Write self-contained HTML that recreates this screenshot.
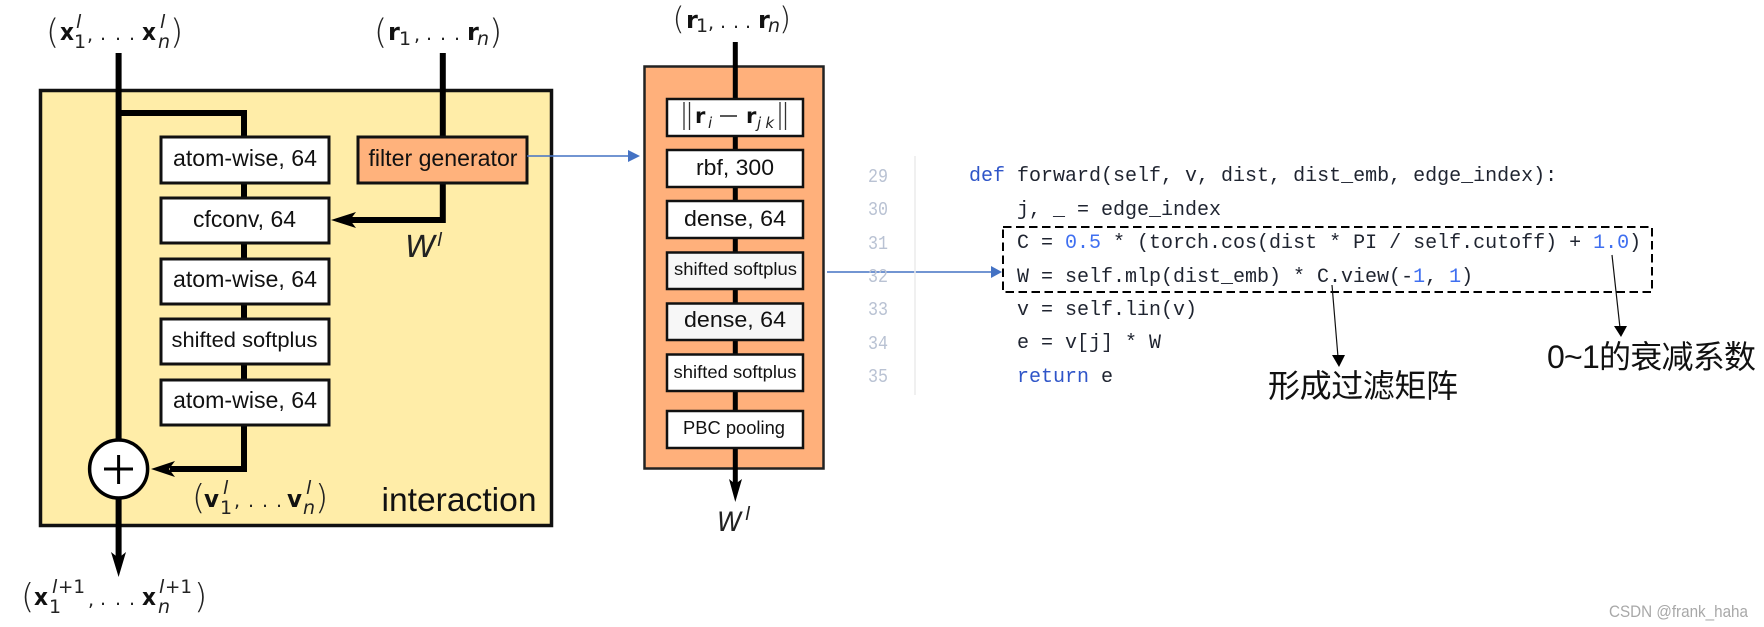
<!DOCTYPE html>
<html><head><meta charset="utf-8">
<style>
html,body{margin:0;padding:0;background:#fff;width:1764px;height:627px;overflow:hidden}
svg{display:block;filter:blur(0.35px)}
.l{font-family:"Liberation Sans",sans-serif;fill:#111}
.b{font-family:"DejaVu Sans",sans-serif;font-weight:bold;font-size:24px;fill:#111}
.r{font-family:"DejaVu Sans",sans-serif;font-size:19px;fill:#222}
.p{font-family:"DejaVu Sans",sans-serif;font-size:34px;font-weight:200;fill:#222}
.i{font-family:"DejaVu Sans",sans-serif;font-style:italic;font-size:19px;fill:#222}
.w{font-family:"DejaVu Sans",sans-serif;font-style:italic;font-size:30px;font-weight:200;fill:#222}
.c{font-family:"Liberation Mono",monospace;font-size:20px;fill:#1f2430;white-space:pre}
.k{fill:#2f55c8}.n{fill:#3f6ff0}
.g{font-family:"Liberation Mono",monospace;font-size:19px;fill:#b9c2d3}
.z{font-family:"Liberation Sans","Noto Sans CJK SC",sans-serif;font-size:32px;fill:#111}
</style></head><body>
<svg width="1764" height="627" viewBox="0 0 1764 627" xmlns="http://www.w3.org/2000/svg">
<rect width="1764" height="627" fill="#fff"/>

<!-- left main box -->
<rect x="40.5" y="90.5" width="511" height="435" fill="#FFEDA8" stroke="#111" stroke-width="3.5"/>
<g stroke="#000" fill="none" stroke-width="6">
<path d="M118.6 53V440"/>
<path d="M118.6 113H244V136"/>
<path d="M442.8 53V136"/>
<path d="M244 183V197M244 243V258M244 304V318M244 364V379"/>
<path d="M442.8 183V220H350"/>
<path d="M244 425V469H170"/>
<path d="M118.6 498V558"/>
</g>
<g fill="#000">
<path d="M331 220L356 212L350 220L356 228Z"/>
<path d="M151 469L175 461L169 469L175 477Z"/>
<path d="M118.6 577L111 552L118.6 558L126 552Z"/>
</g>
<g fill="#fff" stroke="#111" stroke-width="3">
<rect x="161" y="137" width="168" height="46"/>
<rect x="161" y="198" width="168" height="45"/>
<rect x="161" y="259" width="168" height="45"/>
<rect x="161" y="319" width="168" height="45"/>
<rect x="161" y="380" width="168" height="45"/>
<rect x="358" y="137" width="169" height="46" fill="#FFB27C"/>
</g>
<circle cx="118.6" cy="469" r="29" fill="#fff" stroke="#000" stroke-width="3.5"/>
<path d="M104 469H133M118.6 455V484" stroke="#000" stroke-width="3" fill="none"/>
<g font-size="23">
<text class="l" x="173" y="166" textLength="144" lengthAdjust="spacingAndGlyphs">atom-wise, 64</text>
<text class="l" x="193" y="227" textLength="103" lengthAdjust="spacingAndGlyphs">cfconv, 64</text>
<text class="l" x="173" y="287" textLength="144" lengthAdjust="spacingAndGlyphs">atom-wise, 64</text>
<text class="l" x="171.5" y="347" font-size="21.5" textLength="146" lengthAdjust="spacingAndGlyphs">shifted softplus</text>
<text class="l" x="173" y="408" textLength="144" lengthAdjust="spacingAndGlyphs">atom-wise, 64</text>
<text class="l" x="368.5" y="166" textLength="149" lengthAdjust="spacingAndGlyphs">filter generator</text>
</g>
<text class="l" x="381.5" y="511" font-size="33.6" textLength="155" lengthAdjust="spacingAndGlyphs">interaction</text>

<!-- W^l left -->
<text class="w" x="405" y="257" textLength="31" lengthAdjust="spacingAndGlyphs">W</text>
<text class="i" x="437" y="246">l</text>

<!-- top-left label -->
<text class="p" x="46" y="43.5">(</text>
<text class="b" x="60" y="40" textLength="14" lengthAdjust="spacingAndGlyphs">x</text>
<text class="r" x="74" y="48">1</text>
<text class="i" x="76" y="28">l</text>
<text class="r" x="87" y="41">,</text>
<text class="r" x="100 115 129" y="40">...</text>
<text class="b" x="142" y="40" textLength="14" lengthAdjust="spacingAndGlyphs">x</text>
<text class="i" x="158" y="48">n</text>
<text class="i" x="160" y="28">l</text>
<text class="p" x="170" y="43.5">)</text>

<!-- top r label -->
<text class="p" x="374" y="43.5">(</text>
<text class="b" x="388" y="40">r</text>
<text class="r" x="399" y="45">1</text>
<text class="r" x="414" y="41">,</text>
<text class="r" x="426 440 454" y="40">...</text>
<text class="b" x="467" y="40">r</text>
<text class="i" x="477" y="45">n</text>
<text class="p" x="489" y="43.5">)</text>

<!-- v label -->
<text class="p" x="192" y="509">(</text>
<text class="b" x="204" y="507" textLength="15" lengthAdjust="spacingAndGlyphs">v</text>
<text class="r" x="220" y="514">1</text>
<text class="i" x="223" y="494">l</text>
<text class="r" x="234" y="507">,</text>
<text class="r" x="248 262 276" y="507">...</text>
<text class="b" x="287" y="507" textLength="15" lengthAdjust="spacingAndGlyphs">v</text>
<text class="i" x="303" y="514">n</text>
<text class="i" x="306" y="494">l</text>
<text class="p" x="315" y="509">)</text>

<!-- bottom label -->
<text class="p" x="21" y="608">(</text>
<text class="b" x="34" y="605" textLength="14" lengthAdjust="spacingAndGlyphs">x</text>
<text class="r" x="49" y="613">1</text>
<text class="i" x="52" y="593">l</text>
<text class="r" x="58" y="593" textLength="27" lengthAdjust="spacingAndGlyphs">+1</text>
<text class="r" x="88" y="606">,</text>
<text class="r" x="100 115 129" y="605">...</text>
<text class="b" x="142" y="605" textLength="14" lengthAdjust="spacingAndGlyphs">x</text>
<text class="i" x="158" y="613">n</text>
<text class="i" x="159" y="593">l</text>
<text class="r" x="165" y="593" textLength="27" lengthAdjust="spacingAndGlyphs">+1</text>
<text class="p" x="194" y="608">)</text>

<!-- middle box -->
<rect x="644.5" y="66.5" width="179" height="402" fill="#FFB07B" stroke="#222" stroke-width="2.5"/>
<path d="M735.3 42V98M735.3 136V150M735.3 187V201M735.3 238V252M735.3 289V303M735.3 340V354M735.3 391V410M735.3 448V486" stroke="#000" stroke-width="5" fill="none"/>
<path d="M735.3 502L729 479L735.3 484L742 479Z" fill="#000"/>
<g stroke="#111" stroke-width="2.5" fill="#fff">
<rect x="667" y="99" width="136" height="37"/>
<rect x="667" y="150" width="136" height="37"/>
<rect x="667" y="201" width="136" height="37"/>
<rect x="667" y="252.5" width="136" height="36.5" fill="#f7f7f7"/>
<rect x="667" y="303.5" width="136" height="36.5" fill="#f7f7f7"/>
<rect x="667" y="354.5" width="136" height="36.5"/>
<rect x="667" y="411" width="136" height="37"/>
</g>
<text class="l" x="696" y="175" font-size="22" textLength="78" lengthAdjust="spacingAndGlyphs">rbf, 300</text>
<text class="l" x="684" y="226" font-size="22" textLength="102" lengthAdjust="spacingAndGlyphs">dense, 64</text>
<text class="l" x="674" y="275" font-size="17.5" textLength="123" lengthAdjust="spacingAndGlyphs">shifted softplus</text>
<text class="l" x="684" y="327" font-size="22" textLength="102" lengthAdjust="spacingAndGlyphs">dense, 64</text>
<text class="l" x="673.5" y="378" font-size="17.5" textLength="123" lengthAdjust="spacingAndGlyphs">shifted softplus</text>
<text class="l" x="683" y="434" font-size="18" textLength="102" lengthAdjust="spacingAndGlyphs">PBC pooling</text>
<path d="M684 102V130M689.5 102V130M780 102V130M785.5 102V130" stroke="#333" stroke-width="1.3" fill="none"/>
<text class="b" x="695" y="123" style="font-size:21px">r</text>
<text class="i" x="708" y="128" style="font-size:15px">i</text>
<path d="M720 116H737" stroke="#222" stroke-width="1.5"/>
<text class="b" x="746" y="123" style="font-size:21px">r</text>
<text class="i" x="757" y="128" style="font-size:15px" textLength="17">jk</text>

<!-- middle r label -->
<text class="p" x="672.5" y="29" style="font-size:31px">(</text>
<text class="b" x="686" y="28">r</text>
<text class="r" x="696" y="32">1</text>
<text class="r" x="708" y="29">,</text>
<text class="r" x="720 733 745" y="28">...</text>
<text class="b" x="758" y="28">r</text>
<text class="i" x="768" y="32">n</text>
<text class="p" x="779" y="29" style="font-size:31px">)</text>
<!-- W^l middle -->
<text class="w" x="717" y="531" style="font-size:27px" textLength="25" lengthAdjust="spacingAndGlyphs">W</text>
<text class="i" x="745" y="520">l</text>

<!-- blue connectors -->
<path d="M527 156H630M827 272H993" stroke="#4472C4" stroke-width="1.4" fill="none"/>
<path d="M640 156L628 150V162Z M1002 272L991 266V278Z" fill="#4472C4"/>

<!-- code -->
<path d="M915 156V395" stroke="#ececec" stroke-width="1.5"/>
<text class="g" x="868" y="182" textLength="20" lengthAdjust="spacingAndGlyphs">29</text>
<text class="g" x="868" y="215" textLength="20" lengthAdjust="spacingAndGlyphs">30</text>
<text class="g" x="868" y="249" textLength="20" lengthAdjust="spacingAndGlyphs">31</text>
<text class="g" x="868" y="282" textLength="20" lengthAdjust="spacingAndGlyphs">32</text>
<text class="g" x="868" y="315" textLength="20" lengthAdjust="spacingAndGlyphs">33</text>
<text class="g" x="868" y="349" textLength="20" lengthAdjust="spacingAndGlyphs">34</text>
<text class="g" x="868" y="382" textLength="20" lengthAdjust="spacingAndGlyphs">35</text>
<text class="c" x="969" y="181"><tspan class="k">def</tspan> forward(self, v, dist, dist_emb, edge_index):</text>
<text class="c" x="1017" y="215">j, _ = edge_index</text>
<text class="c" x="1017" y="248">C = <tspan class="n">0.5</tspan> * (torch.cos(dist * PI / self.cutoff) + <tspan class="n">1.0</tspan>)</text>
<text class="c" x="1017" y="282">W = self.mlp(dist_emb) * C.view(-<tspan class="n">1</tspan>, <tspan class="n">1</tspan>)</text>
<text class="c" x="1017" y="315">v = self.lin(v)</text>
<text class="c" x="1017" y="348">e = v[j] * W</text>
<text class="c" x="1017" y="382"><tspan class="k">return</tspan> e</text>

<!-- dashed box -->
<rect x="1003" y="227" width="649" height="65" fill="none" stroke="#000" stroke-width="2" stroke-dasharray="8.5 4.5"/>

<!-- annotation arrows -->
<path d="M1332 285L1338 357M1612 255L1620 328" stroke="#111" stroke-width="1.2" fill="none"/>
<path d="M1339 367L1332 355H1345Z M1621 337L1614 326H1627Z" fill="#000"/>

<text class="z" x="1268" y="397" textLength="190">形成过滤矩阵</text>
<text class="z" x="1547" y="368" textLength="209">0~1的衰减系数</text>

<text x="1609" y="617" font-family="Liberation Sans,sans-serif" font-size="16.5" fill="#a8a8a8" textLength="139" lengthAdjust="spacingAndGlyphs">CSDN @frank_haha</text>
</svg>
</body></html>
